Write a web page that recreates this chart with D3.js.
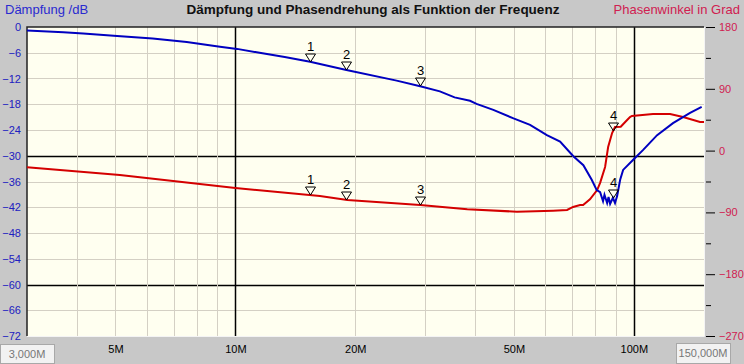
<!DOCTYPE html>
<html>
<head>
<meta charset="utf-8">
<script src="https://cdn.jsdelivr.net/npm/d3@7"></script>
<style>
  body { margin: 0; background: #c8c8c8; }
  svg { display: block; font-family: "Liberation Sans", Arial, sans-serif; }
</style>
</head>
<body>
<div id="chart"></div>
<script>
// chart size
const width = 744;
const height = 364;
const margin = {left: 27, right: 40, top: 27, bottom: 28};

// Daempfung (blue), frequency in MHz -> dB
const dampFreq = [3.0, 3.7, 4.15, 5.05, 6.2, 7.55, 9.15, 10.1, 11.5, 13.3, 15.4, 19.0, 25.4, 29.1,
  32.6, 35.5, 38.8, 40.3, 44.4, 49.9, 54.9, 60.5, 65.3, 70.5, 74.7, 78.4, 80.7,
  82.3, 83.7, 84.4, 85.7, 86.4, 87.2, 88.6, 89.7, 90.8, 92.4, 94.0, 99.5, 105.4,
  114.4, 125.4, 138.4, 148.0];
const dampDb = [-0.8, -1.2, -1.5, -2.1, -2.7, -3.5, -4.6, -5.1, -6.0, -7.0, -8.1, -10.0, -12.5, -13.8,
  -15.0, -16.4, -17.2, -17.9, -19.3, -21.3, -22.8, -25.2, -26.7, -30.1, -32.2, -35.6, -38.0,
  -38.5, -40.6, -39.1, -41.0, -39.6, -41.2, -39.8, -41.0, -39.4, -35.6, -33.3, -31.0, -28.7,
  -25.2, -22.4, -20.0, -18.6];

// Phasenwinkel (red), frequency in MHz -> degrees
const phaseFreq = [3.0, 5.13, 10.0, 16.3, 19.1, 29.1, 38.2, 50.9, 62.7, 68.0, 70.4, 73.3,
  74.6, 77.6, 80.9, 82.3, 84.7, 86.2, 88.2, 89.7, 92.7, 96.2, 97.8, 98.9, 111.7,
  123.3, 132.9, 146.6, 150.0];
const phaseDeg = [-24.3, -35.5, -54.5, -66.1, -71.9, -79.2, -85.5, -89.0, -87.5, -86.5, -82.1, -79.2,
  -79.2, -71.0, -57.4, -47.0, -23.9, 5.2, 25.6, 34.4, 34.8, 44.6, 48.9, 50.4, 53.3,
  53.3, 48.9, 41.6, 41.6];

// markers
const markerFreq = [15.4, 19.0, 29.1, 88.6];
const markerLabels = ["1", "2", "3", "4"];

// ticks
const dbTicks = [0, -6, -12, -18, -24, -30, -36, -42, -48, -54, -60, -66, -72];
const phaseMajor = [180, 90, 0, -90, -180, -270];
const phaseMinor = [135, 45, -45, -135, -225];
const freqLabels = [5, 10, 20, 50, 100];
const freqGrid = [4, 5, 6, 7, 8, 9, 10, 20, 30, 40, 50, 60, 70, 80, 90, 100];

const svg = d3.select("#chart").append("svg")
  .attr("width", width)
  .attr("height", height);

const x = d3.scaleLog().domain([3, 150]).range([margin.left, width - margin.right]);
const yL = d3.scaleLinear().domain([-72, 0]).range([height - margin.bottom, margin.top]);
const yR = d3.scaleLinear().domain([-270, 180]).range([height - margin.bottom, margin.top]);

const x0 = margin.left, x1 = width - margin.right;
const y0 = margin.top, y1 = height - margin.bottom;

// plot background
svg.append("rect")
  .attr("x", x0).attr("y", y0)
  .attr("width", x1 - x0).attr("height", y1 - y0)
  .attr("fill", "#fffff0");

// grid lines
svg.append("g").selectAll("line")
  .data(dbTicks.filter(d => d < 0 && d > -72))
  .join("line")
    .attr("x1", x0).attr("x2", x1)
    .attr("y1", d => Math.round(yL(d)) + 0.5).attr("y2", d => Math.round(yL(d)) + 0.5)
    .attr("stroke", d => (d == -30 || d == -60) ? "#000" : "#d4d0c4")
    .attr("stroke-width", d => (d == -30 || d == -60) ? 1.5 : 1);

svg.append("g").selectAll("line")
  .data(freqGrid)
  .join("line")
    .attr("x1", d => Math.round(x(d)) + 0.5).attr("x2", d => Math.round(x(d)) + 0.5)
    .attr("y1", y0).attr("y2", y1)
    .attr("stroke", d => (d == 10 || d == 100) ? "#000" : "#d4d0c4")
    .attr("stroke-width", d => (d == 10 || d == 100) ? 1.5 : 1);

// sunken frame
svg.append("path")
  .attr("d", `M${x0},${y1}V${y0}H${x1}`)
  .attr("fill", "none").attr("stroke", "#222").attr("stroke-width", 1.5);
svg.append("path")
  .attr("d", `M${x0},${y1 + 0.5}H${x1 + 0.5}V${y0}`)
  .attr("fill", "none").attr("stroke", "#f4f4f4").attr("stroke-width", 1);

// curves
const dampData = dampFreq.map((f, i) => ({f: f, v: dampDb[i]}));
const phaseData = phaseFreq.map((f, i) => ({f: f, v: phaseDeg[i]}));

svg.append("path")
  .datum(phaseData)
  .attr("fill", "none")
  .attr("stroke", "#d40000")
  .attr("stroke-width", 2)
  .attr("d", d3.line().x(d => x(d.f)).y(d => yR(d.v)));

svg.append("path")
  .datum(dampData)
  .attr("fill", "none")
  .attr("stroke", "#0000c0")
  .attr("stroke-width", 2)
  .attr("d", d3.line().x(d => x(d.f)).y(d => yL(d.v)));

// value on a curve at frequency f (linear in log f)
function valueAt(fs, vs, f) {
  const i = Math.max(1, Math.min(fs.length - 1, d3.bisectLeft(fs, f)));
  const t = (Math.log(f) - Math.log(fs[i - 1])) / (Math.log(fs[i]) - Math.log(fs[i - 1]));
  return vs[i - 1] + t * (vs[i] - vs[i - 1]);
}

function drawMarkers(yScale, fs, vs) {
  const g = svg.append("g");
  markerFreq.forEach((f, i) => {
    const px = Math.round(x(f)) + 0.5;
    const py = Math.round(yScale(valueAt(fs, vs, f)));
    g.append("path")
      .attr("d", `M${px - 5},${py - 8}H${px + 5}L${px},${py}Z`)
      .attr("fill", "none").attr("stroke", "#000").attr("stroke-width", 1);
    g.append("text")
      .attr("x", px).attr("y", py - 11)
      .attr("text-anchor", "middle")
      .attr("font-size", "13px")
      .attr("fill", "#000")
      .text(markerLabels[i]);
  });
}
drawMarkers(yL, dampFreq, dampDb);
drawMarkers(yR, phaseFreq, phaseDeg);

// left axis
const leftAxis = svg.append("g")
  .attr("transform", `translate(${x0},0)`)
  .call(d3.axisLeft(yL).tickValues(dbTicks).tickSize(0).tickPadding(6));
leftAxis.select(".domain").remove();
leftAxis.selectAll("text").attr("fill", "#2020c0").attr("font-size", "11px");

// right axis
const rightAxis = svg.append("g")
  .attr("transform", `translate(${x1 + 2},0)`)
  .call(d3.axisRight(yR).tickValues(phaseMajor).tickSize(9).tickPadding(4));
rightAxis.select(".domain").remove();
rightAxis.selectAll("line").attr("stroke", "#000");
rightAxis.selectAll("text").attr("fill", "#d02050").attr("font-size", "11px");

const rightMinor = svg.append("g")
  .attr("transform", `translate(${x1 + 2},0)`)
  .call(d3.axisRight(yR).tickValues(phaseMinor).tickSize(5).tickFormat(""));
rightMinor.select(".domain").remove();
rightMinor.selectAll("line").attr("stroke", "#000");

// bottom axis labels
const bottomAxis = svg.append("g")
  .attr("transform", `translate(0,${y1})`)
  .call(d3.axisBottom(x).tickValues(freqLabels).tickFormat(d => d + "M").tickSize(0).tickPadding(9));
bottomAxis.select(".domain").remove();
bottomAxis.selectAll("text").attr("fill", "#000").attr("font-size", "11px");

// range boxes
function rangeBox(bx, by, bw, bh, label) {
  svg.append("rect")
    .attr("x", bx + 0.5).attr("y", by + 0.5)
    .attr("width", bw).attr("height", bh)
    .attr("fill", "#f2f2f2").attr("stroke", "#a8a8a8");
  svg.append("text")
    .attr("x", bx + bw / 2).attr("y", by + bh / 2 + 4)
    .attr("text-anchor", "middle")
    .attr("font-size", "11px")
    .attr("fill", "#777")
    .text(label);
}
rangeBox(0, 344, 54, 19, "3,000M");
rangeBox(676, 343, 54, 20, "150,000M");

// titles
svg.append("text")
  .attr("x", 373).attr("y", 14)
  .attr("text-anchor", "middle")
  .attr("font-size", "13.5px")
  .attr("font-weight", "bold")
  .attr("fill", "#111")
  .text("Dämpfung und Phasendrehung als Funktion der Frequenz");

svg.append("text")
  .attr("x", 5).attr("y", 14)
  .attr("font-size", "13px")
  .attr("fill", "#2a2ad0")
  .text("Dämpfung /dB");

svg.append("text")
  .attr("x", 740).attr("y", 14)
  .attr("text-anchor", "end")
  .attr("font-size", "13px")
  .attr("fill", "#d02050")
  .text("Phasenwinkel in Grad");
</script>
</body>
</html>
